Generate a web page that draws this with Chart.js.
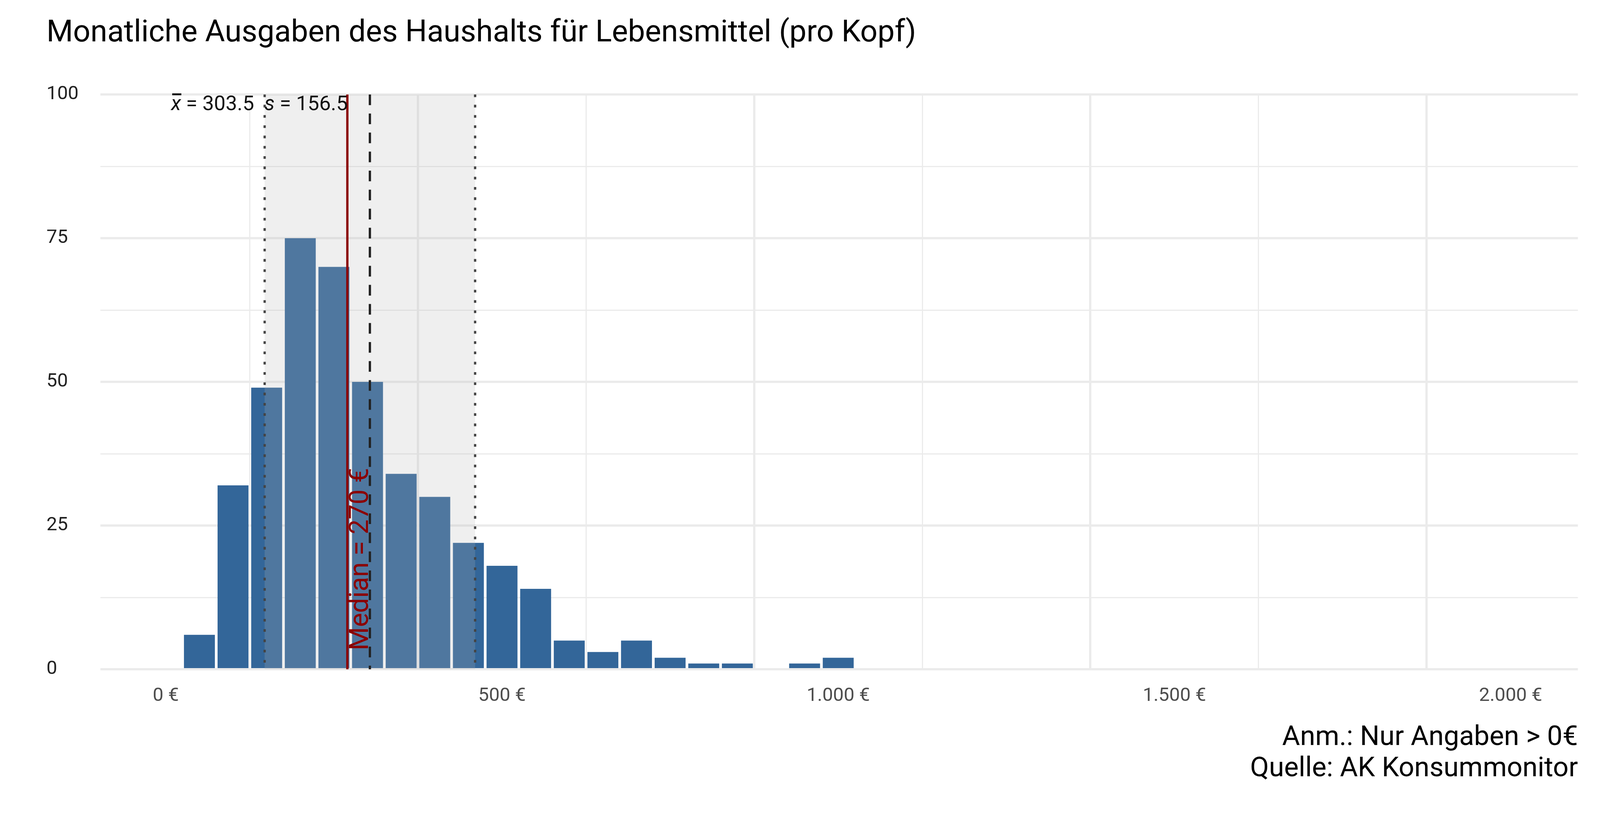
<!DOCTYPE html>
<html><head><meta charset="utf-8">
<script src="https://cdn.jsdelivr.net/npm/chart.js@4"></script>
<style>html,body{margin:0;padding:0;background:#fff;overflow:hidden}#wrap{width:100vw;height:100vh;position:relative}canvas{display:block}</style>
</head><body>
<div id="wrap"><canvas id="c"></canvas></div>
<script>
const binCenters = [50,100,150,200,250,300,350,400,450,500,550,600,650,700,750,800,850,900,950,1000];
const counts = [6,32,49,75,70,50,34,30,22,18,14,5,3,5,2,1,1,0,1,2];
const meanVal = 303.5, sdVal = 156.5, medianVal = 270;
const xTicks = [0,250,500,750,1000,1250,1500,1750,2000];
const xLabels = {0:'0 €',500:'500 €',1000:'1.000 €',1500:'1.500 €',2000:'2.000 €'};
const yTicks = [0,12.5,25,37.5,50,62.5,75,87.5,100];
const titleText = 'Monatliche Ausgaben des Haushalts für Lebensmittel (pro Kopf)';
const captionLines = ['Anm.: Nur Angaben > 0€','Quelle: AK Konsummonitor'];
const F = 'Roboto, "Open Sans", sans-serif';

const W = window.innerWidth, H = window.innerHeight;
const s = W/4200, sy = H/2100;
const cv = document.getElementById('c');
cv.style.width = W+'px'; cv.style.height = H+'px';

const deco = {
  id:'deco',
  afterDatasetsDraw(chart){
    const {ctx, chartArea:a, scales:{x,y}} = chart;
    ctx.save();
    const l = x.getPixelForValue(meanVal - sdVal), r = x.getPixelForValue(meanVal + sdVal);
    ctx.fillStyle = 'rgba(181,181,181,0.22)';
    ctx.fillRect(l, a.top, r-l, a.bottom-a.top);
    ctx.lineWidth = 6*s;
    ctx.strokeStyle = '#444';
    ctx.setLineDash([7*s,20*s]);
    [l,r].forEach(px=>{ctx.beginPath();ctx.moveTo(px,a.top);ctx.lineTo(px,a.bottom);ctx.stroke();});
    const m = x.getPixelForValue(meanVal);
    ctx.strokeStyle = '#222';
    ctx.setLineDash([28*s,22*s]);
    ctx.beginPath();ctx.moveTo(m,a.top);ctx.lineTo(m,a.bottom);ctx.stroke();
    ctx.setLineDash([]);
    const md = x.getPixelForValue(medianVal);
    ctx.strokeStyle = '#8b0000';
    ctx.beginPath();ctx.moveTo(md,a.top);ctx.lineTo(md,a.bottom);ctx.stroke();
    ctx.save();
    ctx.translate(md+54*s, y.getPixelForValue(3.3));
    ctx.rotate(-Math.PI/2);
    ctx.fillStyle = '#8b0000';
    ctx.font = (70*s)+'px '+F;
    ctx.textBaseline = 'alphabetic';
    ctx.textAlign = 'left';
    ctx.fillText('Median = '+medianVal+' €',0,0);
    ctx.restore();
    ctx.fillStyle = '#111';
    ctx.textBaseline = 'middle';
    ctx.textAlign = 'left';
    let px = 449*s; const py = a.top + 28*s;
    const seg = (t,it)=>{ctx.font=(it?'italic ':'')+(54*s)+'px '+F;ctx.fillText(t,px,py);const w=ctx.measureText(t).width;px+=w;return w;};
    const xs = px; const wx = seg('x',true);
    ctx.fillRect(xs+3*s, py-31*s, wx-2*s, 5*s);
    seg(' = '+meanVal.toFixed(1)+'  ',false);
    seg('s',true);
    seg(' = '+sdVal.toFixed(1),false);
    ctx.restore();
  },
  afterDraw(chart){
    const {ctx, scales:{y}} = chart;
    ctx.save();
    ctx.fillStyle = '#222';
    ctx.font = (50*s)+'px '+F;
    ctx.textBaseline='middle';ctx.textAlign='left';
    [0,25,50,75,100].forEach(v=>ctx.fillText(String(v),122*s,y.getPixelForValue(v)));
    ctx.fillStyle = '#000';
    ctx.font = (80*s)+'px '+F;
    ctx.fillText(titleText,122*s,87*sy);
    ctx.font = (72*s)+'px '+F;
    ctx.textAlign='right';
    ctx.fillText(captionLines[0],4142*s,1890*sy);
    ctx.fillText(captionLines[1],4142*s,1970*sy);
    ctx.restore();
  }
};

new Chart(cv,{
  type:'bar',
  data:{datasets:[{data:binCenters.map((v,i)=>({x:v,y:counts[i]})),
    backgroundColor:'#336699',barPercentage:0.92,categoryPercentage:1}]},
  options:{
    responsive:false,animation:false,
    layout:{padding:{left:0,right:58*s,top:242*sy,bottom:266*sy}},
    plugins:{legend:{display:false},tooltip:{enabled:false}},
    scales:{
      x:{type:'linear',min:-97,max:2100,offset:false,
        afterBuildTicks(sc){sc.ticks=xTicks.map(v=>({value:v}));},
        afterFit(sc){sc.height=120*sy;},
        border:{display:false},
        grid:{color:'#ebebeb',lineWidth:c=>(c.tick&&c.tick.value%500===0?6:3)*s,drawTicks:false},
        ticks:{callback:v=>xLabels[v]||'',color:'#4d4d4d',font:{family:F,size:50*s},padding:40*sy,maxRotation:0,autoSkip:false}},
      y:{min:0,max:100,
        afterBuildTicks(sc){sc.ticks=yTicks.map(v=>({value:v}));},
        afterFit(sc){sc.width=264*s;},
        border:{display:false},
        grid:{color:'#ebebeb',lineWidth:c=>(c.tick&&c.tick.value%25===0?6:3)*s,drawTicks:false},
        ticks:{display:false}}
    }
  },
  plugins:[deco]
});
</script>
</body></html>
